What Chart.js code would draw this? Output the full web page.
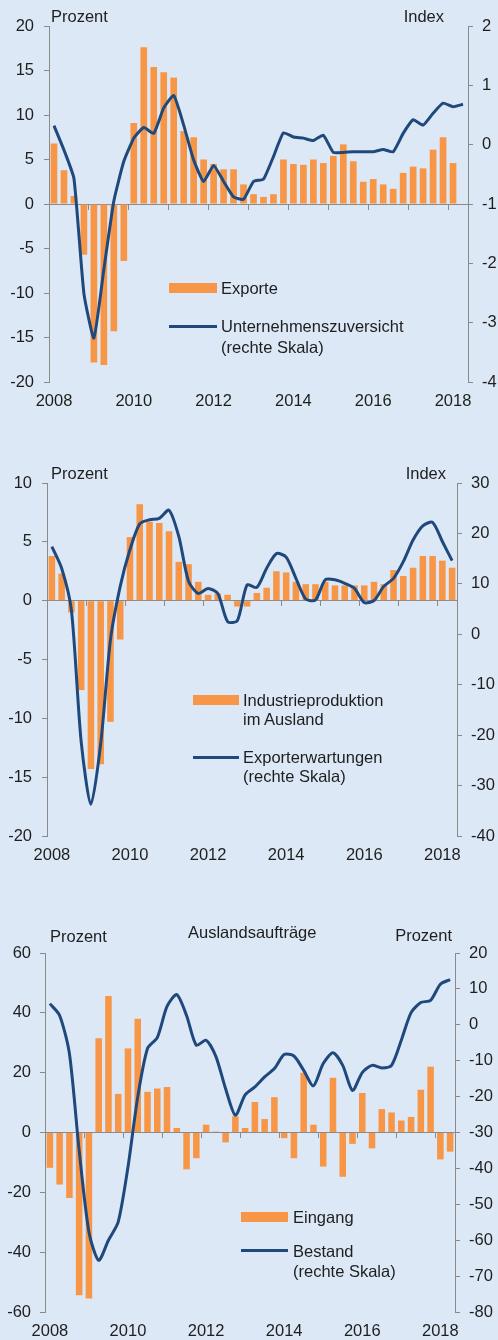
<!DOCTYPE html>
<html>
<head>
<meta charset="utf-8">
<script src="https://cdn.jsdelivr.net/npm/chart.js@4.4.1/dist/chart.umd.min.js"></script>
<style>
body { margin: 0; background: #dce8f6; width: 498px; height: 1340px; position: relative; overflow: hidden;
       font-family: "Liberation Sans", Arial, sans-serif; font-size: 16.5px; color: #1e1e1e; }
canvas { position: absolute; left: 0; }
.t { position: absolute; line-height: 20px; white-space: nowrap; }
.box { position: absolute; height: 10px; background: #f79646; }
.ln { position: absolute; height: 3px; background: #1f497d; }
</style>
</head>
<body>

<!-- Panel 1 -->
<canvas id="chart1" width="498" height="420" style="top:0"></canvas>
<div class="t" style="left:51px;top:6px">Prozent</div>
<div class="t" style="right:54px;top:6px">Index</div>
<div class="box" style="left:169px;top:283px;width:48px"></div>
<div class="t" style="left:221px;top:278px">Exporte</div>
<div class="ln" style="left:169px;top:325px;width:48px"></div>
<div class="t" style="left:221px;top:316px">Unternehmenszuversicht</div>
<div class="t" style="left:221px;top:337px">(rechte Skala)</div>

<!-- Panel 2 -->
<canvas id="chart2" width="498" height="430" style="top:440px"></canvas>
<div class="t" style="left:51px;top:463px">Prozent</div>
<div class="t" style="right:52px;top:463px">Index</div>
<div class="box" style="left:193px;top:695px;width:46px"></div>
<div class="t" style="left:243px;top:690px">Industrieproduktion</div>
<div class="t" style="left:243px;top:709px">im Ausland</div>
<div class="ln" style="left:193px;top:756px;width:46px"></div>
<div class="t" style="left:243px;top:747px">Exporterwartungen</div>
<div class="t" style="left:243px;top:766px">(rechte Skala)</div>

<!-- Panel 3 -->
<canvas id="chart3" width="498" height="440" style="top:900px"></canvas>
<div class="t" style="left:50px;top:926px">Prozent</div>
<div class="t" style="left:188px;top:922px">Auslandsaufträge</div>
<div class="t" style="right:46px;top:925px">Prozent</div>
<div class="box" style="left:241px;top:1212px;width:47px"></div>
<div class="t" style="left:293px;top:1207px">Eingang</div>
<div class="ln" style="left:241px;top:1249px;width:47px"></div>
<div class="t" style="left:293px;top:1241px">Bestand</div>
<div class="t" style="left:293px;top:1261px">(rechte Skala)</div>

<script>
// Quarters 2008 Q1 .. 2018 Q2
const quarters = [
    '2008 Q1', '2008 Q2', '2008 Q3', '2008 Q4',
    '2009 Q1', '2009 Q2', '2009 Q3', '2009 Q4',
    '2010 Q1', '2010 Q2', '2010 Q3', '2010 Q4',
    '2011 Q1', '2011 Q2', '2011 Q3', '2011 Q4',
    '2012 Q1', '2012 Q2', '2012 Q3', '2012 Q4',
    '2013 Q1', '2013 Q2', '2013 Q3', '2013 Q4',
    '2014 Q1', '2014 Q2', '2014 Q3', '2014 Q4',
    '2015 Q1', '2015 Q2', '2015 Q3', '2015 Q4',
    '2016 Q1', '2016 Q2', '2016 Q3', '2016 Q4',
    '2017 Q1', '2017 Q2', '2017 Q3', '2017 Q4',
    '2018 Q1', '2018 Q2',
];

// Panel 1
const exporte = [
    6.8, 3.8, 0.9, -5.7, -17.8, -18.1, -14.3, -6.4,
    9.1, 17.6, 15.4, 14.8, 14.2, 8.2, 7.5, 5.0,
    4.5, 3.9, 3.9, 2.2, 1.1, 0.8, 1.1, 5.0,
    4.5, 4.4, 5.0, 4.6, 5.4, 6.7, 4.8, 2.5,
    2.8, 2.2, 1.7, 3.5, 4.2, 4.0, 6.1, 7.5,
    4.6, null,
];
const zuversicht = [
    0.32, -0.09, -0.57, -2.51, -3.26, -2.1, -0.95, -0.28,
    0.11, 0.29, 0.19, 0.62, 0.83, 0.33, -0.26, -0.62,
    -0.35, -0.62, -0.88, -0.92, -0.62, -0.58, -0.20, 0.20,
    0.13, 0.11, 0.07, 0.16, -0.13, -0.13, -0.12, -0.12,
    -0.12, -0.08, -0.12, 0.19, 0.42, 0.33, 0.53, 0.70,
    0.64, 0.68,
];

// Panel 2
const industrie = [
    3.8, 2.3, -1.0, -7.6, -14.3, -13.9, -10.3, -3.3,
    5.4, 8.2, 6.7, 6.6, 5.9, 3.3, 3.1, 1.6,
    0.5, 0.6, 0.5, -0.5, -0.5, 0.65, 1.1, 2.5,
    2.4, 1.6, 1.4, 1.4, 1.6, 1.3, 1.3, 1.3,
    1.3, 1.6, 1.4, 2.6, 2.1, 2.8, 3.8, 3.8,
    3.4, 2.8,
];
const exporterwartungen = [
    17.4, 13.1, 4.8, -21.3, -33.7, -21.7, -1.1, 9.5,
    16.8, 21.9, 22.7, 23.0, 24.6, 19.4, 10.5, 8.1,
    9.1, 8.1, 2.5, 2.7, 9.8, 9.3, 13.1, 16.0,
    15.3, 11.1, 7.0, 6.8, 10.8, 10.8, 10.1, 9.1,
    6.3, 6.7, 9.5, 11.1, 14.4, 18.7, 21.5, 22.2,
    18.4, 14.6,
];

// Panel 3
const eingang = [
    -11.8, -17.4, -21.9, -54.4, -55.5, 31.5, 45.6, 12.9,
    28.1, 38.0, 13.6, 14.7, 15.2, 1.5, -12.3, -8.6,
    2.6, 0.3, -3.3, 5.4, 1.5, 10.2, 4.5, 11.8,
    -1.9, -8.6, 20.0, 2.6, -11.4, 18.3, -14.8, -3.8,
    13.2, -5.3, 7.8, 6.7, 4.0, 5.2, 14.3, 22.0,
    -9.0, -6.4,
];
const bestand = [
    5.9, 2.6, -8.0, -35.0, -57.7, -65.6, -60.0, -54.9,
    -39.6, -20.1, -6.6, -3.6, 5.1, 8.4, 2.6, -5.7,
    -4.3, -8.8, -17.8, -25.2, -19.5, -17.3, -14.5, -12.2,
    -8.3, -8.7, -12.7, -17.0, -10.8, -7.8, -11.3, -18.3,
    -13.3, -11.3, -12.0, -11.3, -4.3, 3.4, 6.2, 6.8,
    11.3, 12.6,
];

const orange = '#f79646';
const blue = '#1f497d';
const axisGrey = '#8a8a8a';

Chart.defaults.font.family = '"Liberation Sans", Arial, sans-serif';
Chart.defaults.font.size = 16.5;
Chart.defaults.color = '#1e1e1e';

function buildChart(id, o) {
    return new Chart(document.getElementById(id), {
        type: 'bar',
        data: {
            labels: quarters,
            datasets: [{
                type: 'line',
                data: o.lineData,
                yAxisID: 'y1',
                borderColor: blue,
                borderWidth: 3,
                pointRadius: 0,
                tension: o.tension,
                order: 0,
            }, {
                type: 'bar',
                data: o.barData,
                yAxisID: 'y',
                backgroundColor: orange,
                barPercentage: 0.67,
                categoryPercentage: 1,
                order: 1,
            }]
        },
        options: {
            responsive: false,
            animation: false,
            layout: { padding: { top: o.top, left: 0, right: 0, bottom: 0 } },
            plugins: { legend: { display: false }, tooltip: { enabled: false } },
            scales: {
                x: {
                    offset: true,
                    grid: { display: false, drawTicks: false },
                    border: { display: false },
                    ticks: {
                        autoSkip: false,
                        maxRotation: 0,
                        padding: 10,
                        callback: function (v, i) {
                            return i % 8 === 0 ? this.getLabelForValue(v).slice(0, 4) : '';
                        }
                    },
                    afterFit: s => { s.height = o.bottom; }
                },
                // zero line with year ticks
                xz: {
                    type: 'category',
                    axis: 'x',
                    position: { y: 0 },
                    offset: true,
                    grid: {
                        offset: true,
                        drawOnChartArea: false,
                        tickLength: 5,
                        color: c => (c.index > 0 && c.index % 4 === 0) ? axisGrey : 'rgba(0,0,0,0)'
                    },
                    border: { color: axisGrey },
                    ticks: { display: false }
                },
                y: {
                    position: 'left',
                    min: o.yMin, max: o.yMax,
                    ticks: { stepSize: o.yStep, padding: o.padL },
                    grid: { drawOnChartArea: false, tickLength: 5, color: axisGrey },
                    border: { color: axisGrey },
                    afterFit: s => { s.width = o.left; }
                },
                y1: {
                    position: 'right',
                    min: o.y1Min, max: o.y1Max,
                    ticks: { stepSize: o.y1Step, padding: 9 },
                    grid: { drawOnChartArea: false, tickLength: 5, color: axisGrey },
                    border: { color: axisGrey },
                    afterFit: s => { s.width = o.right; }
                }
            }
        }
    });
}

const chart1 = buildChart('chart1', {
    barData: exporte, lineData: zuversicht, tension: 0.15,
    top: 26, bottom: 38, left: 49, right: 30, padL: 10,
    yMin: -20, yMax: 20, yStep: 5, y1Min: -4, y1Max: 2, y1Step: 1,
});

const chart2 = buildChart('chart2', {
    barData: industrie, lineData: exporterwartungen, tension: 0.25,
    top: 43, bottom: 34, left: 47, right: 41, padL: 10,
    yMin: -20, yMax: 10, yStep: 5, y1Min: -40, y1Max: 30, y1Step: 10,
});

const chart3 = buildChart('chart3', {
    barData: eingang, lineData: bestand, tension: 0.25,
    top: 53, bottom: 28, left: 45, right: 43, padL: 9,
    yMin: -60, yMax: 60, yStep: 20, y1Min: -80, y1Max: 20, y1Step: 10,
});
</script>
</body>
</html>
